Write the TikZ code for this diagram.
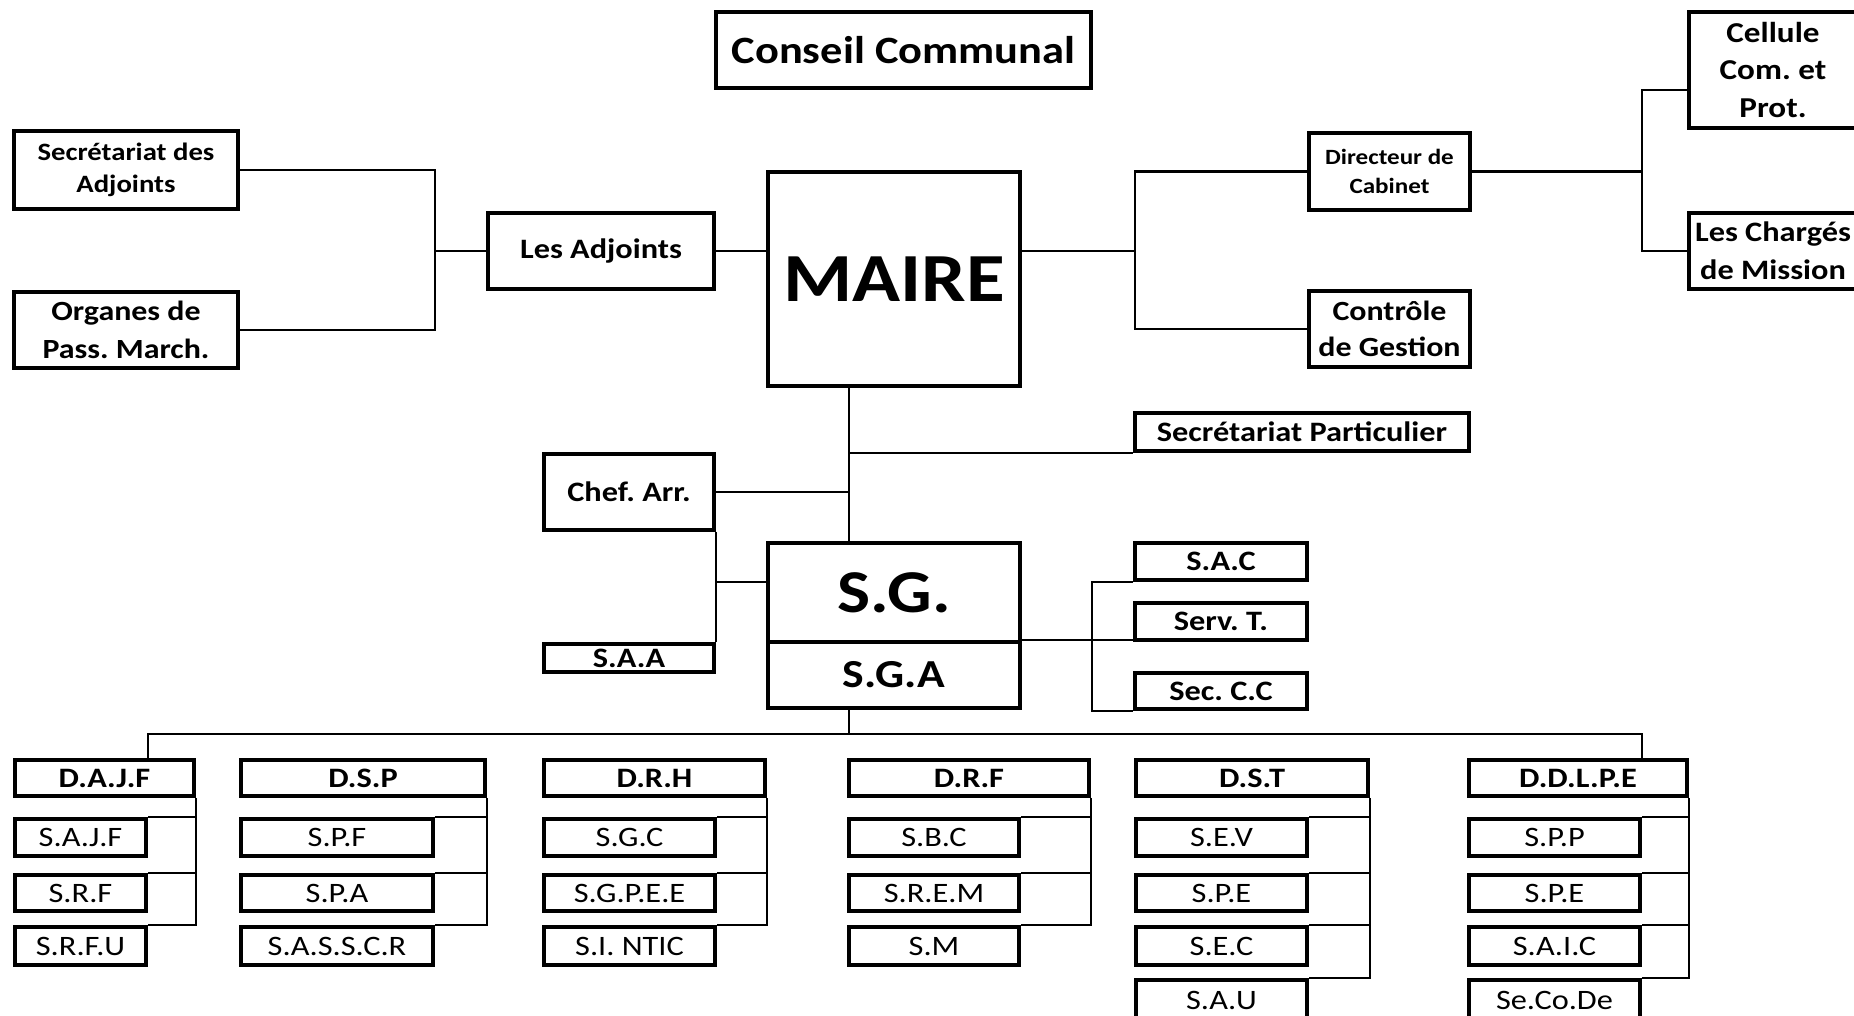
\documentclass[tikz,border=0pt]{standalone}
\usepackage{fontspec}
\setmainfont{Carlito}[FakeStretch=1.15]
\frenchspacing

\begin{document}
\begin{tikzpicture}[x=0.1mm,y=-0.1mm,
	box/.style={draw, line width=0.4mm, inner sep=0pt, align=center, font=\bfseries\fontsize{8}{10.6}\selectfont},
	dirbox/.style={box, minimum height=3.6mm},
	subbox/.style={draw, line width=0.4mm, inner sep=0pt, font=\fontsize{8}{9}\selectfont},
	link/.style={line width=0.26mm}]

	\useasboundingbox[fill=white] (0,0) rectangle (1854,1016);

	% Top level
	\node[box, minimum width=37.5mm, minimum height=7.6mm, font=\bfseries\fontsize{11}{12}\selectfont] (cons) at (903.5,50) {Conseil Communal};
	\node[box, minimum width=25.2mm, minimum height=21.4mm, font=\bfseries\fontsize{19.6}{21}\selectfont] (maire) at (894,279) {\raisebox{-0.5mm}{MAIRE}};

	\node[box, minimum width=22.4mm, minimum height=7.8mm, font=\bfseries\fontsize{7.1}{9.1}\selectfont] (secadj) at (126,170) {Secrétariat des\\Adjoints};
	\node[box, minimum width=22.4mm, minimum height=7.6mm, font=\bfseries\fontsize{7.9}{10.8}\selectfont] (organ) at (126,330) {Organes de\\Pass. March.};
	\node[box, minimum width=22.6mm, minimum height=7.6mm] (adj) at (601,251) {Les Adjoints};

	\node[box, minimum width=16.1mm, minimum height=7.7mm, font=\bfseries\fontsize{6.2}{8}\selectfont] (dir) at (1389.5,171.5) {Directeur de\\Cabinet};
	\node[box, minimum width=16.1mm, minimum height=7.6mm, font=\bfseries\fontsize{7.9}{10.4}\selectfont] (ctrl) at (1389.5,329) {Contrôle\\de Gestion};
	\node[box, minimum width=16.8mm, minimum height=11.6mm, font=\bfseries\fontsize{8.2}{10.7}\selectfont] (cell) at (1773,70) {Cellule\\Com. et\\Prot.};
	\node[box, minimum width=16.8mm, minimum height=7.6mm, font=\bfseries\fontsize{8}{10.8}\selectfont] (charg) at (1773,251) {Les Chargés\\de Mission};

	% Secretariat general
	\node[box, minimum width=33.4mm, minimum height=3.8mm] (secpart) at (1302,432) {Secrétariat Particulier};
	\node[box, minimum width=17mm, minimum height=7.6mm] (chef) at (629,492) {Chef. Arr.};
	\node[box, minimum width=25.2mm, minimum height=9.9mm, font=\bfseries\fontsize{17.3}{19}\selectfont] (sg) at (894,592.5) {S.G.};
	\node[box, minimum width=25.2mm, minimum height=6.6mm, font=\bfseries\fontsize{11.3}{12}\selectfont] (sga) at (894,675) {S.G.A};
	\node[box, minimum width=17mm, minimum height=2.8mm] (saa) at (629,658) {S.A.A};
	\node[box, minimum width=17.2mm, minimum height=3.7mm] (sac) at (1221,561.5) {S.A.C};
	\node[box, minimum width=17.2mm, minimum height=3.7mm] (servt) at (1221,621.5) {Serv. T.};
	\node[box, minimum width=17.2mm, minimum height=3.6mm] (seccc) at (1221,691) {Sec. C.C};

	% Directions
	\node[dirbox, minimum width=17.9mm] (dajf) at (104.5,778) {D.A.J.F};
	\node[dirbox, minimum width=24.4mm] (dsp) at (363,778) {D.S.P};
	\node[dirbox, minimum width=22.1mm] (drh) at (654.5,778) {D.R.H};
	\node[dirbox, minimum width=24mm] (drf) at (969,778) {D.R.F};
	\node[dirbox, minimum width=23.2mm] (dst) at (1252,778) {D.S.T};
	\node[dirbox, minimum width=21.8mm] (ddlpe) at (1578,778) {D.D.L.P.E};

	% Services
	\node[subbox, minimum width=13.1mm, minimum height=3.7mm] (sajf) at (80.5,837.5) {S.A.J.F};
	\node[subbox, minimum width=13.1mm, minimum height=3.6mm] (srf) at (80.5,893) {S.R.F};
	\node[subbox, minimum width=13.1mm, minimum height=3.8mm] (srfu) at (80.5,946) {S.R.F.U};

	\node[subbox, minimum width=19.2mm, minimum height=3.7mm] (spf) at (337,837.5) {S.P.F};
	\node[subbox, minimum width=19.2mm, minimum height=3.6mm] (spa) at (337,893) {S.P.A};
	\node[subbox, minimum width=19.2mm, minimum height=3.8mm] (sasscr) at (337,946) {S.A.S.S.C.R};

	\node[subbox, minimum width=17.1mm, minimum height=3.7mm] (sgc) at (629.5,837.5) {S.G.C};
	\node[subbox, minimum width=17.1mm, minimum height=3.6mm] (sgpee) at (629.5,893) {S.G.P.E.E};
	\node[subbox, minimum width=17.1mm, minimum height=3.8mm] (sintic) at (629.5,946) {S.I. NTIC};

	\node[subbox, minimum width=17mm, minimum height=3.7mm] (sbc) at (934,837.5) {S.B.C};
	\node[subbox, minimum width=17mm, minimum height=3.6mm] (srem) at (934,893) {S.R.E.M};
	\node[subbox, minimum width=17mm, minimum height=3.8mm] (sm) at (934,946) {S.M};

	\node[subbox, minimum width=17.1mm, minimum height=3.7mm] (sev) at (1221.5,837.5) {S.E.V};
	\node[subbox, minimum width=17.1mm, minimum height=3.6mm] (spe) at (1221.5,893) {S.P.E};
	\node[subbox, minimum width=17.1mm, minimum height=3.8mm] (sec) at (1221.5,946) {S.E.C};
	\node[subbox, minimum width=17.1mm, minimum height=4mm] (sau) at (1221.5,1000) {S.A.U};

	\node[subbox, minimum width=17.1mm, minimum height=3.7mm] (spp) at (1554.5,837.5) {S.P.P};
	\node[subbox, minimum width=17.1mm, minimum height=3.6mm] (spee) at (1554.5,893) {S.P.E};
	\node[subbox, minimum width=17.1mm, minimum height=3.8mm] (saic) at (1554.5,946) {S.A.I.C};
	\node[subbox, minimum width=17.1mm, minimum height=4mm] (secode) at (1554.5,1000) {Se.Co.De};

	% Bracket points
	\coordinate (lk) at (435,251);
	\coordinate (mk) at (1135,251);
	\coordinate (dk) at (1642,90);
	\coordinate (spine) at (849,0);
	\coordinate (rk) at (1092,0);
	\coordinate (bus) at (849,734);

	% Adjoints
	\draw[link] (secadj.east) -- (secadj.east -| lk) -- (organ.east -| lk) -- (organ.east);
	\draw[link] (lk) -- (adj.west);
	\draw[link] (adj.east) -- (maire.west |- adj.east);

	% Cabinet
	\draw[link] (maire.east |- mk) -- (mk);
	\draw[link] (dir.west) -| (mk) |- (ctrl.west);
	\draw[link] (dir.east) -- (dir.east -| dk);
	\draw[link] (cell.west |- dk) -- (dk) |- (charg.west);

	% Spine
	\draw[link] (maire.south -| spine) -- (sg.north -| spine);
	\draw[link] (spine |- secpart.south) -- (secpart.south west);
	\draw[link] (chef.east) -- (chef.east -| spine);
	\draw[link] (chef.south east) -- (saa.north east);
	\draw[link] (chef.east |- sac.south) -- (sg.west |- sac.south);
	\draw[link] (sga.north east) -- (sga.north east -| servt.west);
	\draw[link] (sac.south west) -- (rk |- sac.south) -- (rk |- seccc.south) -- (seccc.south west);

	% Bus to directions
	\draw[link] (sga.south -| spine) -- (bus);
	\draw[link] (dajf.north -| sajf.east) -- (sajf.east |- bus) -- (spp.east |- bus) -- (ddlpe.north -| spp.east);

	% Services
	\draw[link] (dajf.south east) -- (dajf.east |- srfu.north) -- (srfu.north east);
	\draw[link] (sajf.north east) -- (sajf.north east -| dajf.east);
	\draw[link] (srf.north east) -- (srf.north east -| dajf.east);

	\draw[link] (dsp.south east) -- (dsp.east |- sasscr.north) -- (sasscr.north east);
	\draw[link] (spf.north east) -- (spf.north east -| dsp.east);
	\draw[link] (spa.north east) -- (spa.north east -| dsp.east);

	\draw[link] (drh.south east) -- (drh.east |- sintic.north) -- (sintic.north east);
	\draw[link] (sgc.north east) -- (sgc.north east -| drh.east);
	\draw[link] (sgpee.north east) -- (sgpee.north east -| drh.east);

	\draw[link] (drf.south east) -- (drf.east |- sm.north) -- (sm.north east);
	\draw[link] (sbc.north east) -- (sbc.north east -| drf.east);
	\draw[link] (srem.north east) -- (srem.north east -| drf.east);

	\draw[link] (dst.south east) -- (dst.east |- sau.north) -- (sau.north east);
	\draw[link] (sev.north east) -- (sev.north east -| dst.east);
	\draw[link] (spe.north east) -- (spe.north east -| dst.east);
	\draw[link] (sec.north east) -- (sec.north east -| dst.east);

	\draw[link] (ddlpe.south east) -- (ddlpe.east |- secode.north) -- (secode.north east);
	\draw[link] (spp.north east) -- (spp.north east -| ddlpe.east);
	\draw[link] (spee.north east) -- (spee.north east -| ddlpe.east);
	\draw[link] (saic.north east) -- (saic.north east -| ddlpe.east);

\end{tikzpicture}
\end{document}
